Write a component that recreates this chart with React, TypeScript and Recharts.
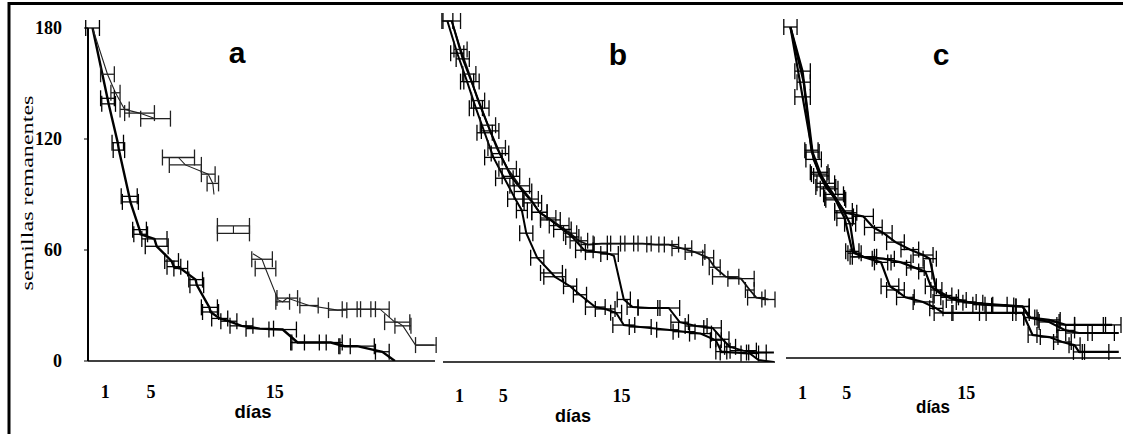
import {
  ComposedChart,
  Line,
  Scatter,
  ErrorBar,
  XAxis,
  YAxis,
} from "recharts";

// [día, semillas remanentes, error (días)]
type Punto = [number, number | null, number];

const diasTicks = [7, 14, 21, 28];
const diasEtiquetaPos = [1.5, 5.5, 16.3];
const diasEtiquetas = ["1", "5", "15"];
const semillasTicks = [0, 60, 120, 180];
const DOMINIO_DIAS: [number, number] = [0, 30.3];

// panel a
const aCurva1: Punto[] = [
  [0.4, 180, 0.6], [1.7, 142, 0.6], [1.8, 139, 0.6], [2.6, 118, 0.5], [2.7, 114, 0.5],
  [3.6, 89, 0.7], [3.7, 86, 0.7], [4.5, 71, 0.6], [4.6, 68.5, 0.6], [5.8, 66, 1.1],
  [6, 62, 1.0], [7.3, 54, 0.6], [7.5, 51, 0.6], [8.1, 50, 0.6], [9.4, 44, 0.6],
  [9.5, 41, 0.6], [10.6, 29, 0.7], [10.7, 26.5, 0.7], [11.5, 23, 0.7], [12.3, 21.5, 0.7],
  [13.4, 19, 1.0], [15, 17.5, 1.2], [17, 17, 1.2], [18.3, 10, 0.6], [19.3, 10, 1.5],
  [21.2, 10, 1.0], [22.4, 8, 0.5], [23.5, 8, 1.5], [25.7, 5, 0.6], [26.8, 0, 0],
];
const aCurva2: Punto[] = [
  [0.4, 180, 0], [1.7, 155, 0.6], [2.4, 145, 0.4], [3.2, 136, 0.4], [4.5, 134, 1.3],
  [5.9, 131, 1.3], [7, null, 0], [7.9, 110, 1.4], [8.5, 106, 1.4], [10.5, 101, 0.6],
  [10.9, 96, 0.5], [11.0, 90, 0], [11.8, null, 0], [12.7, 73, 1.4], [12.7, 69, 1.4],
  [13.8, null, 0], [14.4, 58, 0], [15.2, 55, 0.9], [15.5, 50, 0.9], [16.6, 33, 0],
  [17, 32, 0.6], [17.4, 34, 0.9], [19.3, 30, 0.8], [21.8, 27.5, 0.8], [23, 28, 0.8],
  [24.3, 28, 0.8], [25.5, 28, 0.8], [26.8, 21, 0], [27, 21, 1.1], [27.5, 19, 0.7],
  [28.6, 8.6, 0], [29.5, 8.6, 0.9], [30.2, 8.6, 0],
];

// panel b
const bCurva1: Punto[] = [
  [0.8, 180, 0.8], [1.6, 165, 0.6], [2.4, 152, 0.6], [3.2, 138, 0.6], [4.1, 125, 0.7],
  [4.9, 113, 0.8], [5.9, 102, 0.8], [7, 93, 0.9], [8, 86, 0.7], [8.8, 79, 0.7],
  [9.6, 76, 0.7], [10.6, 72, 0.9], [11.6, 68, 0.6], [12.4, 64, 0.8], [13.2, 62, 0.6],
  [14.5, 62.5, 0.8], [15.8, 62.5, 0.8], [17, 62.5, 0.8], [18.2, 62.5, 0.8], [19.4, 62, 0.8],
  [20.6, 62, 0.9], [21.8, 60, 0.9], [23, 58, 0.9], [24.2, 55, 0.5], [24.8, 50, 0.5],
  [25.8, 45, 1.2], [27.2, 44, 1.2], [28, 38, 0.4], [28.6, 34, 0.8], [29.7, 33, 0.6],
];
const bCurva2: Punto[] = [
  [0.8, 180, 0], [1.8, 160, 0.6], [2.6, 148, 0.7], [3.5, 134, 0.7], [4.3, 122, 0.8],
  [5.2, 110, 0.8], [6.2, 98, 0.8], [7.3, 90, 0.8], [8.2, 84, 0.8], [8.8, 79, 0.7],
  [9.8, 75, 0.9], [10.9, 70, 0.8], [11.8, 66, 0.6], [12.9, 59, 0.8], [14, 58, 1.0],
  [15.2, 57, 0.8], [15.6, 56, 0], [16.5, 33, 0.6], [17.3, 29, 0.5], [18.8, 28.5, 1.0],
  [20.6, 28.5, 1.0], [21.6, 21, 0.8], [23.1, 19, 1.0], [24.6, 18, 0.8], [25.5, 12, 0.6],
  [26.2, 8, 0.5], [27.4, 6, 1.2], [28.7, 5, 0.8], [30.2, 5, 0],
];
const bCurva3: Punto[] = [
  [0.4, 180, 0.5], [1.3, 163, 0.6], [2.2, 148, 0.6], [3, 134, 0.6], [3.8, 121, 0.7],
  [4.6, 108, 0.8], [5.6, 97, 0.8], [6.6, 86, 0.7], [7.2, 80, 0.5], [7.6, 68, 0.6],
  [8.6, 55, 0.6], [9.9, 47, 1.0], [10.2, 45, 1.0], [11.6, 40, 0.6], [12.5, 35.5, 0.6],
  [13.9, 29, 0.9], [14.8, 28, 0.9], [15.8, 26, 0.5], [16.5, 19.5, 1.0], [18, 18.5, 1.0],
  [20.5, 17, 1.0], [22, 16, 1.0], [23.5, 15, 1.0], [24.9, 11.5, 0.5], [25.4, 5.5, 0.5],
  [26.5, 5, 1.2], [28, 4.5, 0.8], [28.8, 1, 0], [30.2, 0, 0],
];

// panel c
const cCurva1: Punto[] = [
  [0.4, 180, 0.6], [1.5, 156, 0.7], [2.4, 112, 0.6], [3.2, 99, 0.7], [3.9, 92, 0.8],
  [4.5, 86, 0.9], [5.4, 79, 1.0], [7, 77, 0.9], [7.9, 71, 0.8], [8.8, 68, 0.8],
  [9.9, 63, 0.8], [11.2, 59, 0.8], [12.4, 56, 0.9], [13, 54, 0.6], [13.6, 37, 0.5],
  [14.8, 33, 0.8], [16.3, 30.5, 0.9], [17.8, 29, 0.9], [19.6, 28.5, 1.0], [21.4, 28, 0.6],
  [22.1, 22, 0.6], [23.8, 20.7, 1.0], [25.3, 18, 0.8], [27.5, 18, 1.4], [29.5, 18, 0.8],
];
const cCurva2: Punto[] = [
  [0.4, 180, 0], [1.5, 142, 0.7], [2.5, 108, 0.7], [3, 101, 0.8], [3.6, 95, 0.8],
  [4.3, 89, 0.9], [5.2, 80, 0.8], [5.8, 73, 0.5], [6.2, 57, 0.6], [7, 55, 1.0],
  [8.8, 54, 1.0], [10.4, 52, 0.9], [11.7, 49, 0.8], [12.6, 47, 0.6], [13.1, 39, 0.5],
  [14.2, 34, 0.8], [15.4, 31.5, 0.9], [16.9, 30, 0.9], [19, 29, 1.0], [21.4, 28, 0.6],
  [22, 22, 0.5], [23.8, 19.6, 0.9], [25.3, 15, 0.8], [26.5, 13.6, 1.2], [28.5, 13.6, 1.2],
  [30.1, 13.6, 0],
];
const cCurva3: Punto[] = [
  [0.4, 180, 0], [1.6, 150, 0.6], [2.3, 113, 0.6], [3, 100, 0.7], [3.6, 93, 0.9],
  [4.4, 87, 0.9], [5.3, 76, 0.7], [6, 58, 0.6], [7, 55, 1.2], [8.6, 52, 0.6],
  [9.4, 39, 0.8], [9.9, 37, 0.8], [10.8, 33, 0.8], [12.4, 30.5, 0.9], [13.6, 27, 0.6],
  [14.2, 24.5, 0.8], [16.6, 24.5, 1.5], [19, 24.5, 1.5], [21.4, 24.5, 0.6], [22.3, 12.5, 0.4],
  [23.8, 11.4, 0.8], [25, 8.7, 0.8], [26.1, 7, 0.5], [26.5, 3.3, 0.5], [28, 3.3, 1.2],
  [30.1, 3.3, 0],
];

interface Curva {
  pts: Punto[];
  grosor: number;
  color: string;
}

interface PanelProps {
  curvas: Curva[];
  left: number;
  width: number;
  margin: { top: number; right: number; left: number; bottom: number };
  ejeY: boolean;
  alturaEtiquetas: number;
  separacion: number;
}

const serif = "'Liberation Serif', 'Times New Roman', serif";
const sans = "'Liberation Sans', Arial, sans-serif";
const numeros = { fontFamily: serif, fontSize: 18, fontWeight: "bold", fill: "#000" };

const filas = (pts: Punto[]) => pts.map(([d, v, e]) => ({ d, v, e }));

function Panel({ curvas, left, width, margin, ejeY, alturaEtiquetas, separacion }: PanelProps) {
  return (
    <div style={{ position: "absolute", left, top: 0 }}>
      <ComposedChart width={width} height={434} margin={margin}>
        {/* números de día debajo de las marcas */}
        <XAxis
          xAxisId="b"
          type="number"
          dataKey="d"
          domain={DOMINIO_DIAS}
          ticks={diasEtiquetaPos}
          allowDataOverflow
          tickFormatter={(_v: number, i: number) => diasEtiquetas[i]}
          axisLine={false}
          tickLine={false}
          tickSize={0}
          tickMargin={separacion}
          height={alturaEtiquetas}
          tick={numeros}
        />
        {/* eje de días con marcas semanales */}
        <XAxis
          xAxisId="a"
          type="number"
          dataKey="d"
          domain={DOMINIO_DIAS}
          ticks={diasTicks}
          allowDataOverflow
          tick={false}
          tickSize={4}
          height={4}
          axisLine={{ stroke: "#000", strokeWidth: 1.5 }}
          tickLine={{ stroke: "#000", strokeWidth: 1.5 }}
        />
        <YAxis
          type="number"
          dataKey="v"
          domain={[0, 180]}
          allowDataOverflow
          ticks={semillasTicks}
          width={ejeY ? 40 : 0}
          tick={ejeY ? numeros : false}
          tickLine={ejeY ? { stroke: "#000" } : false}
          tickSize={4}
          tickMargin={22}
          axisLine={{ stroke: "#000", strokeWidth: 2 }}
        />
        {curvas.map((c, i) => (
          <Line
            key={`l${i}`}
            xAxisId="a"
            data={filas(c.pts)}
            dataKey="v"
            type="linear"
            stroke={c.color}
            strokeWidth={c.grosor}
            dot={false}
            connectNulls={false}
            isAnimationActive={false}
          />
        ))}
        {curvas.map((c, i) => (
          <Scatter
            key={`s${i}`}
            xAxisId="a"
            data={filas(c.pts).filter((r) => r.v !== null && r.e > 0)}
            shape={() => <g />}
            isAnimationActive={false}
          >
            <ErrorBar dataKey="e" direction="x" width={8} stroke={c.color} strokeWidth={1.3} />
          </Scatter>
        ))}
      </ComposedChart>
    </div>
  );
}

export default function App() {
  return (
    <div
      style={{
        position: "absolute",
        left: 0,
        top: 0,
        width: 1123,
        height: 434,
        background: "#fff",
        overflow: "hidden",
      }}
    >
      <Panel
        curvas={[
          { pts: aCurva1, grosor: 2.4, color: "#000" },
          { pts: aCurva2, grosor: 1.1, color: "#222" },
        ]}
        left={0}
        width={440}
        margin={{ top: 28, right: 5, left: 48, bottom: 0 }}
        ejeY
        alturaEtiquetas={69}
        separacion={20}
      />
      <Panel
        curvas={[
          { pts: bCurva1, grosor: 1.8, color: "#111" },
          { pts: bCurva2, grosor: 2.0, color: "#000" },
          { pts: bCurva3, grosor: 2.0, color: "#000" },
        ]}
        left={440}
        width={340}
        margin={{ top: 21, right: 5, left: 3, bottom: 0 }}
        ejeY={false}
        alturaEtiquetas={68}
        separacion={23}
      />
      <Panel
        curvas={[
          { pts: cCurva1, grosor: 2.2, color: "#000" },
          { pts: cCurva2, grosor: 2.2, color: "#000" },
          { pts: cCurva3, grosor: 2.2, color: "#000" },
        ]}
        left={780}
        width={343}
        margin={{ top: 27, right: 2, left: 6, bottom: 0 }}
        ejeY={false}
        alturaEtiquetas={72}
        separacion={24}
      />
      {/* marco, letras de panel y títulos de ejes */}
      <svg
        width={1123}
        height={434}
        style={{ position: "absolute", left: 0, top: 0, pointerEvents: "none" }}
      >
        <line x1={8} y1={3.5} x2={1123} y2={3.5} stroke="#000" strokeWidth={3} />
        <line x1={9} y1={2} x2={9} y2={434} stroke="#000" strokeWidth={3} />
        <text x={237} y={63} textAnchor="middle" fontFamily={sans} fontWeight="bold" fontSize={30}>a</text>
        <text x={618} y={65} textAnchor="middle" fontFamily={sans} fontWeight="bold" fontSize={30}>b</text>
        <text x={941} y={65} textAnchor="middle" fontFamily={sans} fontWeight="bold" fontSize={30}>c</text>
        <text x={253} y={418} textAnchor="middle" fontFamily={sans} fontWeight="bold" fontSize={19} textLength={37} lengthAdjust="spacingAndGlyphs">días</text>
        <text x={573} y={422} textAnchor="middle" fontFamily={sans} fontWeight="bold" fontSize={19} textLength={36} lengthAdjust="spacingAndGlyphs">días</text>
        <text x={933} y={413} textAnchor="middle" fontFamily={sans} fontWeight="bold" fontSize={19} textLength={34} lengthAdjust="spacingAndGlyphs">días</text>
        <text
          x={27}
          y={199}
          transform="rotate(-90 27 193)"
          textAnchor="middle"
          fontFamily={serif}
          fontSize={17}
          textLength={195}
          lengthAdjust="spacingAndGlyphs"
        >
          semillas remanentes
        </text>
      </svg>
    </div>
  );
}
